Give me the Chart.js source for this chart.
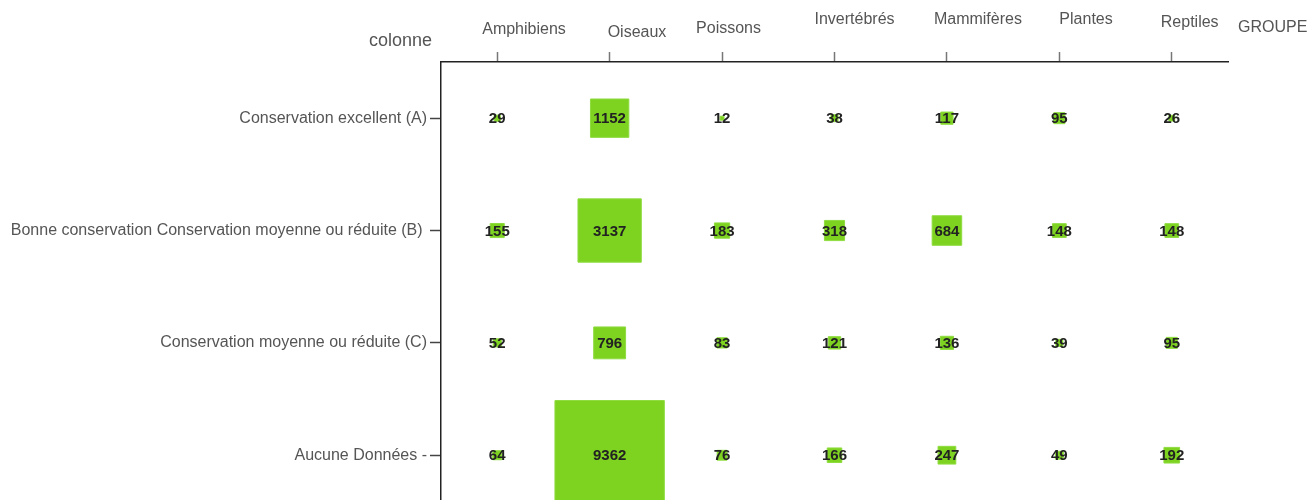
<!DOCTYPE html>
<html>
<head>
<meta charset="utf-8">
<script src="https://cdn.jsdelivr.net/npm/chart.js@4.4.1/dist/chart.umd.min.js"></script>
<style>
    html, body { margin: 0; padding: 0; background: #fff; overflow: hidden; }
    #wrap { width: 1315px; height: 524px; }
</style>
</head>
<body>
<div id="wrap"><canvas id="matrixChart" width="1315" height="524"></canvas></div>
<script>
// Data
const groups = ['Amphibiens', 'Oiseaux', 'Poissons', 'Invertébrés', 'Mammifères', 'Plantes', 'Reptiles'];
const statuses = [
    'Conservation excellent (A)',
    'Bonne conservation Conservation moyenne ou réduite (B) ',
    'Conservation moyenne ou réduite (C)',
    'Aucune Données -'
];
const rowA = [29, 1152, 12, 38, 117, 95, 26];
const rowB = [155, 3137, 183, 318, 684, 148, 148];
const rowC = [52, 796, 83, 121, 136, 39, 95];
const rowD = [64, 9362, 76, 166, 247, 49, 192];
const rows = [rowA, rowB, rowC, rowD];

// label placement (staggered top labels, as in the original)
const groupLabelDx = [-15, -2, -26, -20, -13, 0, -11];
const groupLabelDy = [-32, -29, -33, -42, -42, -42, -39];

document.addEventListener("DOMContentLoaded", () => {

    Chart.defaults.font.family = "'Liberation Sans', Arial, sans-serif";
    Chart.defaults.color = '#555';

    const maxValue = Math.max(...rows.flat());

    const points = [];
    rows.forEach((row, r) => {
        row.forEach((v, g) => {
            points.push({ x: groups[g], y: statuses[r], v: v });
        });
    });

    // square side ~ sqrt(value), biggest one almost fills a cell
    const squareRadius = (ctx) => {
        const sx = ctx.chart.scales.x;
        const step = Math.abs(sx.getPixelForValue(1) - sx.getPixelForValue(0));
        const side = 0.973 * step * Math.sqrt(ctx.raw.v / maxValue);
        return side / Math.SQRT2;
    };

    const valueLabels = {
        id: 'valueLabels',
        afterDatasetsDraw(chart) {
            const ctx = chart.ctx;
            const meta = chart.getDatasetMeta(0);
            ctx.save();
            ctx.font = "bold 15px 'Liberation Sans', Arial, sans-serif";
            ctx.fillStyle = '#222';
            ctx.textAlign = 'center';
            ctx.textBaseline = 'middle';
            meta.data.forEach((pt, i) => {
                ctx.fillText(points[i].v, pt.x, pt.y + 1);
            });
            ctx.restore();
        }
    };

    const topLabels = {
        id: 'topLabels',
        afterDraw(chart) {
            const ctx = chart.ctx;
            const sx = chart.scales.x;
            const top = chart.chartArea.top;
            ctx.save();
            ctx.fillStyle = '#555';
            ctx.textBaseline = 'middle';
            ctx.font = "16px 'Liberation Sans', Arial, sans-serif";
            ctx.textAlign = 'left';
            groups.forEach((g, i) => {
                ctx.fillText(g, sx.getPixelForValue(i) + groupLabelDx[i], top + groupLabelDy[i]);
            });
            ctx.fillText('GROUPE', chart.chartArea.right + 10, top - 34);
            ctx.font = "18px 'Liberation Sans', Arial, sans-serif";
            ctx.textAlign = 'right';
            ctx.fillText('colonne', chart.chartArea.left - 9, top - 21);
            ctx.restore();
        }
    };

    new Chart(document.getElementById('matrixChart').getContext('2d'), {
        type: 'scatter',
        data: {
            datasets: [{
                data: points,
                pointStyle: 'rect',
                pointRadius: squareRadius,
                pointHoverRadius: squareRadius,
                backgroundColor: '#7ed321',
                borderColor: '#8fdc40',
                borderWidth: 1
            }]
        },
        options: {
            responsive: false,
            animation: false,
            events: [],
            layout: { padding: { top: 52, right: 87, bottom: 4, left: 0 } },
            scales: {
                x: {
                    type: 'category',
                    labels: groups,
                    position: 'top',
                    offset: true,
                    ticks: { display: false },
                    grid: { drawOnChartArea: false, tickLength: 10, tickColor: '#777', tickWidth: 1.5 },
                    border: { color: '#222', width: 1.5 }
                },
                y: {
                    type: 'category',
                    labels: statuses,
                    offset: true,
                    afterFit: (scale) => { scale.width = 441; },
                    ticks: {
                        padding: 3,
                        color: '#555',
                        font: { size: 16 }
                    },
                    grid: { drawOnChartArea: false, tickLength: 11, tickColor: '#444', tickWidth: 1.5 },
                    border: { color: '#222', width: 1.5 }
                }
            },
            plugins: {
                legend: { display: false },
                tooltip: { enabled: false }
            }
        },
        plugins: [valueLabels, topLabels]
    });
});
</script>
</body>
</html>
